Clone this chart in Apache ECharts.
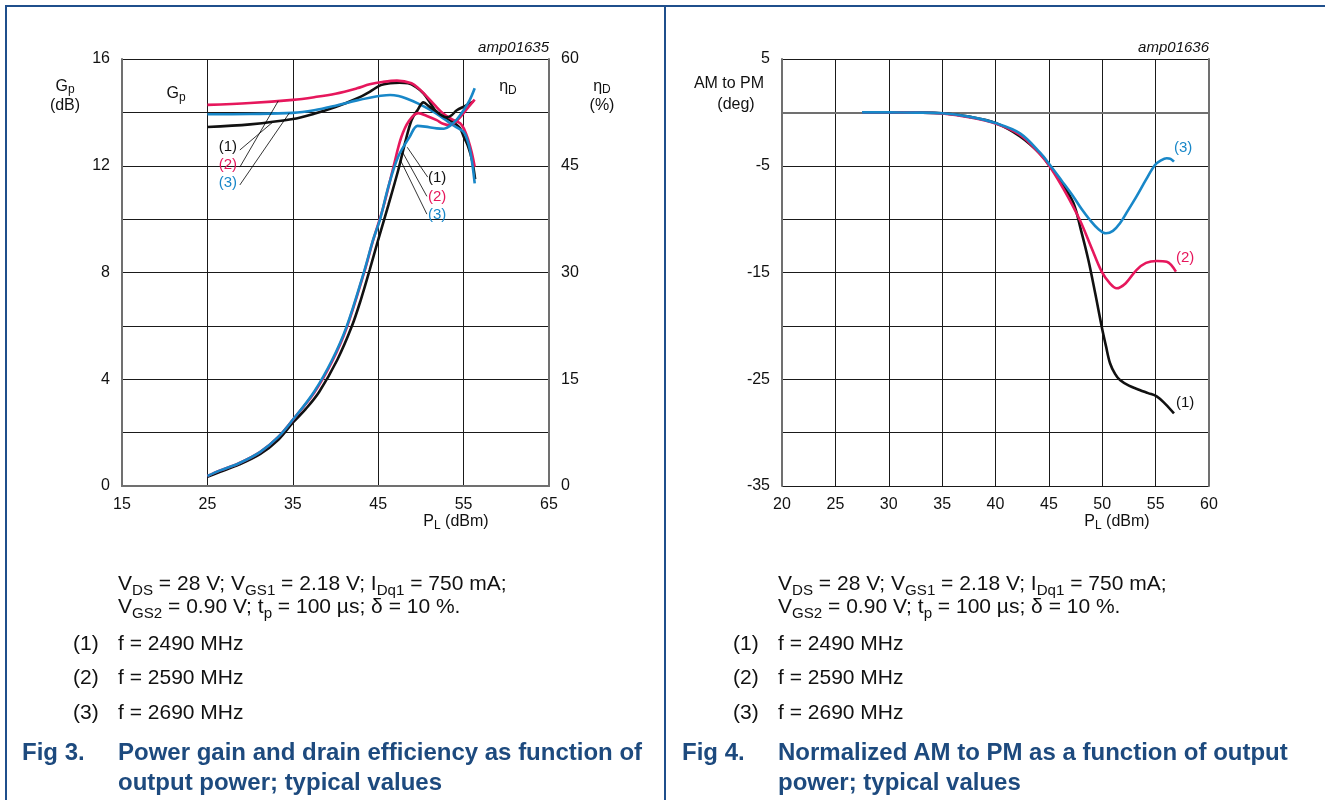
<!DOCTYPE html>
<html>
<head>
<meta charset="utf-8">
<script src="https://cdn.jsdelivr.net/npm/echarts@6/dist/echarts.min.js"></script>
<style>
  html, body { margin: 0; padding: 0; background: #fff; }
  #page { position: relative; width: 1325px; height: 800px; overflow: hidden; font-family: 'Liberation Sans', Arial, sans-serif; }
  #chart { position: absolute; left: 0; top: 0; width: 1325px; height: 800px; }
  .rule { position: absolute; background: #1f4f8c; }
  .txt { position: absolute; white-space: nowrap; font-size: 21px; line-height: 24px; color: #111; }
  .txt sub { font-size: 0.72em; vertical-align: -0.3em; line-height: 0; }
  .cap { position: absolute; white-space: nowrap; font-size: 24px; line-height: 30px; font-weight: bold; color: #1d4a7e; }
</style>
</head>
<body>
<div id="page">
  <div class="rule" style="left:5px;top:5px;width:1320px;height:2px"></div>
  <div class="rule" style="left:5px;top:5px;width:2px;height:795px"></div>
  <div class="rule" style="left:664px;top:5px;width:2px;height:795px"></div>
  <div id="chart"></div>

  <!-- fig 3 notes -->
  <div class="txt" style="left:118px;top:571px">V<sub>DS</sub> = 28 V; V<sub>GS1</sub> = 2.18 V; I<sub>Dq1</sub> = 750 mA;</div>
  <div class="txt" style="left:118px;top:594px">V<sub>GS2</sub> = 0.90 V; t<sub>p</sub> = 100 µs; δ = 10 %.</div>
  <div class="txt" style="left:73px;top:631px">(1)</div><div class="txt" style="left:118px;top:631px">f = 2490 MHz</div>
  <div class="txt" style="left:73px;top:665px">(2)</div><div class="txt" style="left:118px;top:665px">f = 2590 MHz</div>
  <div class="txt" style="left:73px;top:700px">(3)</div><div class="txt" style="left:118px;top:700px">f = 2690 MHz</div>
  <div class="cap" style="left:22px;top:737px">Fig 3.</div>
  <div class="cap" style="left:118px;top:737px">Power gain and drain efficiency as function of</div>
  <div class="cap" style="left:118px;top:767px">output power; typical values</div>

  <!-- fig 4 notes -->
  <div class="txt" style="left:778px;top:571px">V<sub>DS</sub> = 28 V; V<sub>GS1</sub> = 2.18 V; I<sub>Dq1</sub> = 750 mA;</div>
  <div class="txt" style="left:778px;top:594px">V<sub>GS2</sub> = 0.90 V; t<sub>p</sub> = 100 µs; δ = 10 %.</div>
  <div class="txt" style="left:733px;top:631px">(1)</div><div class="txt" style="left:778px;top:631px">f = 2490 MHz</div>
  <div class="txt" style="left:733px;top:665px">(2)</div><div class="txt" style="left:778px;top:665px">f = 2590 MHz</div>
  <div class="txt" style="left:733px;top:700px">(3)</div><div class="txt" style="left:778px;top:700px">f = 2690 MHz</div>
  <div class="cap" style="left:682px;top:737px">Fig 4.</div>
  <div class="cap" style="left:778px;top:737px">Normalized AM to PM as a function of output</div>
  <div class="cap" style="left:778px;top:767px">power; typical values</div>
</div>

<script>
// ---- Fig 3 : power gain (dB) ----
const gpX1 = [25, 30, 35, 37.5, 40, 42.5, 44, 45.3, 46.4, 47.5, 48.5, 49.4, 50.3, 51.1, 51.9, 52.6, 53.4, 54.1, 54.6, 55.0, 55.5, 56.0, 56.35]
const gpY1 = [13.45, 13.55, 13.75, 13.95, 14.2, 14.52, 14.77, 15.02, 15.09, 15.11, 15.09, 14.95, 14.71, 14.35, 13.98, 13.82, 13.71, 13.55, 13.4, 13.1, 12.75, 12.2, 11.5]
const gpX2 = [25, 30, 35, 37.5, 40, 42.5, 44, 45.5, 47.2, 48.9, 49.8, 50.7, 51.6, 52.6, 53.6, 54.6, 55.1, 55.55, 55.95, 56.3]
const gpY2 = [14.28, 14.35, 14.47, 14.57, 14.7, 14.9, 15.05, 15.14, 15.19, 15.09, 14.88, 14.59, 14.28, 13.96, 13.75, 13.59, 13.35, 12.96, 12.5, 11.96]
const gpX3 = [25, 30, 35, 37.5, 40, 42.5, 44, 45.3, 46.4, 47.4, 48.3, 49.7, 51.1, 52.3, 53.4, 54.3, 55.0, 55.4, 55.75, 56.05, 56.3]
const gpY3 = [13.93, 13.94, 13.98, 14.08, 14.25, 14.45, 14.55, 14.62, 14.65, 14.61, 14.52, 14.33, 14.09, 13.85, 13.6, 13.42, 13.27, 13.0, 12.59, 12.0, 11.34]

// ---- Fig 3 : drain efficiency (%) ----
const etaX1 = [25, 26.5, 28.7, 31.2, 33.3, 35, 36.5, 38.1, 40.2, 41.9, 43, 44.0, 45.0, 46.2, 47.35, 48.1, 48.9, 49.6, 50.3, 51.0, 51.85, 52.4, 53.0, 53.6, 54.2, 55.2, 56.1]
const etaY1 = [1.3, 2.0, 3.0, 4.5, 6.5, 8.9, 10.8, 13.25, 17.7, 22.4, 26.3, 30.35, 34.6, 39.5, 44.4, 48.0, 51.4, 52.8, 53.9, 53.3, 52.6, 52.1, 51.8, 52.1, 52.8, 53.4, 54.0]
const etaX2 = [25, 26.5, 28.7, 31.2, 33.3, 35, 37.5, 39.6, 41.3, 43.4, 44.4, 45.6, 46.8, 47.7, 48.6, 49.7, 50.7, 51.85, 52.6, 53.4, 54.1, 54.8, 55.6, 56.3]
const etaY2 = [1.4, 2.2, 3.2, 4.8, 6.9, 9.3, 13.1, 17.5, 22.2, 30.2, 34.5, 39.2, 44.9, 49.0, 51.3, 52.4, 52.0, 51.4, 50.9, 50.7, 51.2, 52.1, 53.3, 54.3]
const etaX3 = [25, 26.5, 28.7, 31.2, 33.3, 35, 37.5, 39.6, 41.3, 43.4, 44.4, 45.2, 46.2, 47.35, 48.7, 49.6, 50.5, 51.85, 52.7, 53.4, 54.2, 55.0, 55.7, 56.3]
const etaY3 = [1.4, 2.2, 3.2, 4.8, 6.9, 9.3, 13.25, 17.7, 22.4, 30.35, 34.6, 37.4, 42.1, 46.3, 49.1, 50.6, 50.5, 50.25, 50.2, 50.6, 51.5, 52.8, 54.2, 55.9]

// ---- Fig 4 : normalized AM to PM (deg) ----
const amX1 = [27.5, 30, 32.5, 35, 37.5, 40, 42.3, 44.2, 45.1, 46.2, 47.3, 48.0, 48.7, 49.35, 49.95, 50.35, 50.73, 51.2, 51.66, 52.5, 53.5, 54.3, 55.1, 55.9, 56.72]
const amY1 = [0, 0, -0.02, -0.08, -0.4, -1.0, -2.25, -3.9, -5.05, -6.6, -8.5, -11.0, -13.83, -17.0, -20.08, -21.9, -23.5, -24.5, -25.07, -25.6, -26.0, -26.3, -26.6, -27.3, -28.2]
const amX2 = [27.5, 30, 32.5, 35, 37.5, 40, 42.3, 44.2, 45.1, 46.5, 47.9, 49.0, 49.95, 50.7, 51.35, 52.2, 53.2, 54.1, 55.1, 56.04, 56.9]
const amY2 = [0, 0, -0.02, -0.1, -0.45, -1.05, -2.12, -3.95, -5.09, -7.4, -10.08, -12.7, -14.92, -16.0, -16.48, -16.0, -14.77, -14.1, -13.92, -13.99, -14.92]
const amX3 = [27.5, 30, 32.5, 35, 37.5, 40, 42.3, 44.2, 45.1, 46.2, 47.3, 48.1, 48.85, 49.6, 50.35, 51.0, 51.66, 52.4, 53.2, 54.1, 54.94, 55.5, 56.04, 56.4, 56.72]
const amY3 = [0, 0, -0.02, -0.08, -0.4, -1.0, -1.96, -3.8, -4.93, -6.4, -7.9, -9.1, -10.08, -10.9, -11.33, -11.1, -10.39, -9.2, -7.9, -6.3, -4.93, -4.5, -4.3, -4.35, -4.62]

// curve labels (1) (2) (3)
const curveNames = ['(1)', '(2)', '(3)']

const FONT = "'Liberation Sans', Arial, sans-serif"
const BLACK = '#111111'
const RED = '#e6175c'
const BLUE = '#1887c8'
const colors = [BLACK, RED, BLUE]
const GRID = '#1a1a1a'
const FRAME = '#707070'

const zip = (xs, ys) => xs.map((x, i) => [x, ys[i]])

const chart = echarts.init(document.getElementById('chart'))

const tickLabel = { color: '#111', fontSize: 16, fontFamily: FONT }

function curve(name, xs, ys, color, xi, yi, extra) {
  return Object.assign({
    name: name,
    type: 'line',
    xAxisIndex: xi,
    yAxisIndex: yi,
    data: zip(xs, ys),
    showSymbol: false,
    symbol: 'none',
    smooth: 0.35,
    lineStyle: { color: color, width: 2.6 },
    itemStyle: { color: color },
    z: 3
  }, extra || {})
}

// thin leader lines from the curves to their labels
function leaders(lines) {
  return {
    symbol: ['none', 'none'],
    silent: true,
    animation: false,
    lineStyle: { color: '#000', width: 0.8, type: 'solid' },
    label: { show: false },
    emphasis: { disabled: true },
    data: lines.map(l => [{ coord: l[0] }, { coord: l[1] }])
  }
}
function tags(points) {
  return {
    symbol: 'circle',
    symbolSize: 0,
    silent: true,
    animation: false,
    label: { show: true, position: 'inside', formatter: '{b}', fontSize: 15, fontFamily: FONT },
    data: points.map((p, i) => ({ name: curveNames[i], coord: p, label: { color: colors[i] } }))
  }
}

function sub(size) {
  return {
    a: { fontSize: size, fontFamily: FONT, fill: '#111', lineHeight: 19 },
    s: { fontSize: size * 0.75, fontFamily: FONT, fill: '#111', verticalAlign: 'bottom', height: 12, lineHeight: 19 }
  }
}
function label(x, y, text, align, size) {
  return { type: 'text', x: x, y: y, silent: true, style: { text: text, align: align || 'center', verticalAlign: 'middle', rich: sub(size || 16) } }
}

chart.setOption({
  animation: false,
  backgroundColor: 'transparent',
  grid: [
    { left: 122, top: 59, width: 427, height: 427 },
    { left: 782, top: 59, width: 427, height: 427 }
  ],
  xAxis: [
    {
      gridIndex: 0, type: 'value', min: 15, max: 65, interval: 5,
      axisLine: { lineStyle: { color: FRAME, width: 2 } },
      axisTick: { show: false },
      axisLabel: Object.assign({ margin: 11, formatter: v => ((v - 15) % 10 === 0 ? v : '') }, tickLabel),
      // grid only every 10 dBm
      splitLine: { show: true, lineStyle: { color: [GRID, 'rgba(0,0,0,0)'], width: 1 } }
    },
    { gridIndex: 0, type: 'value', position: 'top', min: 15, max: 65, axisLine: { lineStyle: { color: FRAME, width: 2 } }, axisTick: { show: false }, axisLabel: { show: false }, splitLine: { show: false } },
    {
      gridIndex: 1, type: 'value', min: 20, max: 60, interval: 5,
      axisLine: { lineStyle: { color: FRAME, width: 2 } },
      axisTick: { show: false },
      axisLabel: Object.assign({ margin: 11 }, tickLabel),
      splitLine: { show: true, lineStyle: { color: GRID, width: 1 } }
    },
    { gridIndex: 1, type: 'value', position: 'top', min: 20, max: 60, axisLine: { lineStyle: { color: FRAME, width: 2 } }, axisTick: { show: false }, axisLabel: { show: false }, splitLine: { show: false } }
  ],
  yAxis: [
    {
      gridIndex: 0, type: 'value', min: 0, max: 16, interval: 2,
      axisLine: { show: true, lineStyle: { color: FRAME, width: 2 } },
      axisTick: { show: false },
      axisLabel: Object.assign({ margin: 12, formatter: v => (v % 4 === 0 ? v : '') }, tickLabel),
      splitLine: { show: true, lineStyle: { color: GRID, width: 1 } }
    },
    {
      gridIndex: 0, type: 'value', position: 'right', min: 0, max: 60, interval: 15,
      axisLine: { show: true, lineStyle: { color: FRAME, width: 2 } },
      axisTick: { show: false },
      axisLabel: Object.assign({ margin: 12 }, tickLabel),
      splitLine: { show: false }
    },
    {
      gridIndex: 1, type: 'value', min: -35, max: 5, interval: 5,
      axisLine: { show: true, lineStyle: { color: FRAME, width: 2 } },
      axisTick: { show: false },
      axisLabel: Object.assign({ margin: 12, formatter: v => ((v + 35) % 10 === 0 ? v : '') }, tickLabel),
      splitLine: { show: true, lineStyle: { color: GRID, width: 1 } }
    },
    { gridIndex: 1, type: 'value', position: 'right', min: -35, max: 5, axisLine: { show: true, lineStyle: { color: FRAME, width: 2 } }, axisTick: { show: false }, axisLabel: { show: false }, splitLine: { show: false } }
  ],
  graphic: [
    label(65, 96, '{a|G}{s|p}\n{a|(dB)}'),
    label(602, 96, '{a|η}{s|D}\n{a|(%)}'),
    label(176, 94, '{a|G}{s|p}'),
    label(508, 87, '{a|η}{s|D}'),
    label(456, 522, '{a|P}{s|L}{a| (dBm)}'),
    label(1117, 522, '{a|P}{s|L}{a| (dBm)}'),
    label(729, 84, '{a|AM to PM}'),
    label(736, 105, '{a|(deg)}'),
    { type: 'text', x: 549, y: 48, silent: true, style: { text: 'amp01635', align: 'right', verticalAlign: 'middle', fontSize: 15, fontStyle: 'italic', fontFamily: FONT, fill: '#111' } },
    { type: 'text', x: 1209, y: 48, silent: true, style: { text: 'amp01636', align: 'right', verticalAlign: 'middle', fontSize: 15, fontStyle: 'italic', fontFamily: FONT, fill: '#111' } }
  ],
  series: [
    curve('gp1', gpX1, gpY1, BLACK, 0, 0, {
      markLine: leaders([[[28.8, 12.59], [32.6, 13.62]], [[28.8, 11.95], [33.3, 14.43]], [[28.8, 11.28], [34.6, 13.98]]]),
      markPoint: tags([[27.4, 12.7], [27.4, 12.03], [27.4, 11.35]])
    }),
    curve('gp2', gpX2, gpY2, RED, 0, 0),
    curve('gp3', gpX3, gpY3, BLUE, 0, 0),
    curve('eta1', etaX1, etaY1, BLACK, 0, 1, {
      markLine: leaders([[[48.4, 47.6], [50.8, 43.4]], [[47.9, 46.8], [50.7, 40.7]], [[47.6, 45.8], [50.7, 38.2]]]),
      markPoint: tags([[51.9, 43.3], [51.9, 40.6], [51.9, 38.1]])
    }),
    curve('eta2', etaX2, etaY2, RED, 0, 1),
    curve('eta3', etaX3, etaY3, BLUE, 0, 1),
    curve('am1', amX1, amY1, BLACK, 2, 2, { endLabel: { show: true, formatter: curveNames[0], color: BLACK, fontSize: 15, fontFamily: FONT, offset: [-6, -11] } }),
    curve('am2', amX2, amY2, RED, 2, 2, { endLabel: { show: true, formatter: curveNames[1], color: RED, fontSize: 15, fontFamily: FONT, offset: [-8, -14] } }),
    curve('am3', amX3, amY3, BLUE, 2, 2, { endLabel: { show: true, formatter: curveNames[2], color: BLUE, fontSize: 15, fontFamily: FONT, offset: [-8, -14] } })
  ]
})
</script>
</body>
</html>
